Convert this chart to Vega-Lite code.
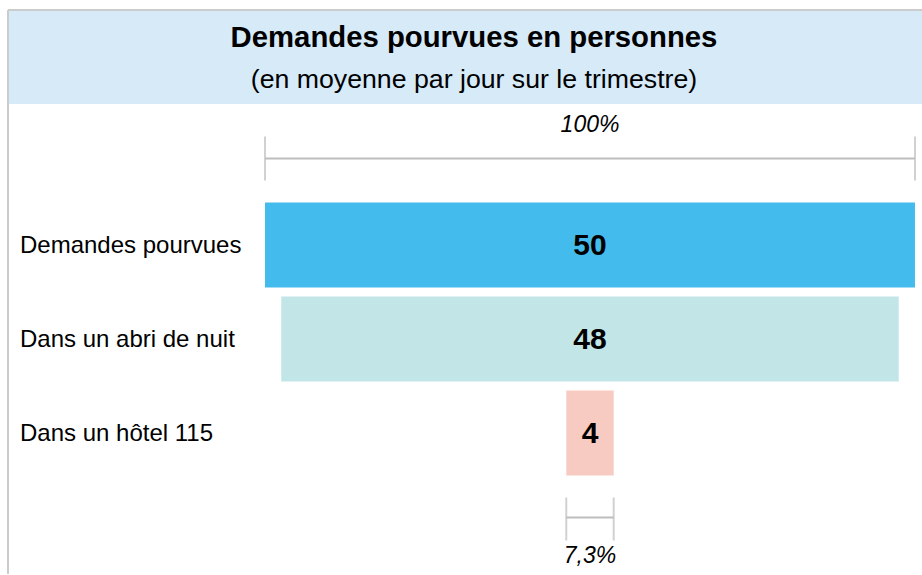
{
  "$schema": "https://vega.github.io/schema/vega-lite/v6.json",
  "width": 914,
  "height": 564,
  "autosize": {"type": "none"},
  "padding": {"left": 8, "top": 10, "right": 0, "bottom": 1},
  "background": "white",
  "config": {"view": {"stroke": null}, "font": "Liberation Sans"},
  "datasets": {
    "titres": [
      {"rang": "bandeau", "ligne": "titre", "texte": "Demandes pourvues en personnes"},
      {"rang": "bandeau", "ligne": "sous-titre", "texte": "(en moyenne par jour sur le trimestre)"}
    ],
    "barres": [
      {"rang": "Demandes pourvues", "valeur": 50},
      {"rang": "Dans un abri de nuit", "valeur": 47.5},
      {"rang": "Dans un hôtel 115", "valeur": 3.65}
    ],
    "reperes": [
      {"rang": "repère haut", "valeur": 50, "part": "100%"},
      {"rang": "repère bas", "valeur": 3.65, "part": "7,3%"}
    ]
  },
  "layer": [
    {
      "data": {"name": "barres"},
      "mark": {"type": "bar", "height": 85},
      "encoding": {
        "x": {"field": "valeur", "type": "quantitative", "stack": "center", "axis": null,
              "scale": {"domain": [-19.77, 50.54], "nice": false, "zero": false}},
        "y": {"field": "rang", "type": "nominal", "axis": null,
              "scale": {"domain": ["bandeau", "repère haut", "Demandes pourvues", "Dans un abri de nuit", "Dans un hôtel 115", "repère bas"], "paddingInner": 0, "paddingOuter": 0}},
        "color": {"field": "rang", "type": "nominal", "legend": null,
                  "scale": {"domain": ["Demandes pourvues", "Dans un abri de nuit", "Dans un hôtel 115"], "range": ["#44BBED", "#C2E6E7", "#F7CBC1"]}}
      }
    },
    {
      "data": {"name": "barres"},
      "mark": {"type": "text", "fontSize": 24, "align": "left", "baseline": "alphabetic", "dx": 12, "dy": 8, "color": "#000000"},
      "encoding": {
        "x": {"datum": -19.77, "type": "quantitative", "axis": null, "scale": {"domain": [-19.77, 50.54], "nice": false, "zero": false}},
        "y": {"field": "rang", "type": "nominal", "axis": null},
        "text": {"field": "rang"}
      }
    },
    {
      "data": {"name": "titres"},
      "transform": [{"filter": "datum.ligne === 'titre'"}],
      "mark": {"type": "rect", "color": "#D6EAF8"},
      "encoding": {
        "y": {"field": "rang", "type": "nominal", "axis": null}
      }
    },
    {
      "data": {"name": "titres"},
      "transform": [{"filter": "datum.ligne === 'titre'"}],
      "mark": {"type": "text", "fontSize": 29.3, "fontWeight": "bold", "baseline": "alphabetic", "align": "center", "dy": -10, "dx": 9, "color": "#000000"},
      "encoding": {
        "y": {"field": "rang", "type": "nominal", "axis": null},
        "text": {"field": "texte"}
      }
    },
    {
      "data": {"name": "titres"},
      "transform": [{"filter": "datum.ligne === 'sous-titre'"}],
      "mark": {"type": "text", "fontSize": 26.7, "baseline": "alphabetic", "align": "center", "dy": 31, "dx": 9, "color": "#000000"},
      "encoding": {
        "y": {"field": "rang", "type": "nominal", "axis": null},
        "text": {"field": "texte"}
      }
    },
    {
      "data": {"name": "barres"},
      "mark": {"type": "text", "fontSize": 30, "fontWeight": "bold", "baseline": "alphabetic", "align": "center", "dy": 10, "color": "#000000"},
      "encoding": {
        "x": {"field": "valeur", "type": "quantitative", "stack": "center", "bandPosition": 0.5, "axis": null, "scale": {"domain": [-19.77, 50.54], "nice": false, "zero": false}},
        "y": {"field": "rang", "type": "nominal", "axis": null},
        "text": {"field": "valeur", "type": "quantitative", "format": ".0f"}
      }
    },
    {
      "data": {"name": "reperes"},
      "transform": [
        {"stack": "valeur", "groupby": ["rang"], "offset": "center", "as": ["v0", "v1"]},
        {"filter": "datum.rang === 'repère haut'"}
      ],
      "layer": [
        {
          "mark": {"type": "rule", "color": "#BDBDBD", "strokeWidth": 2, "yOffset": 7.5},
          "encoding": {
            "x": {"field": "v0", "type": "quantitative", "axis": null, "scale": {"domain": [-19.77, 50.54], "nice": false, "zero": false}},
            "x2": {"field": "v1"},
            "y": {"field": "rang", "type": "nominal", "axis": null}
          }
        },
        {
          "transform": [{"fold": ["v0", "v1"], "as": ["cote", "bord"]}],
          "mark": {"type": "tick", "color": "#BDBDBD", "thickness": 2, "size": 44, "yOffset": 7.5},
          "encoding": {
            "x": {"field": "bord", "type": "quantitative", "axis": null, "scale": {"domain": [-19.77, 50.54], "nice": false, "zero": false}},
            "y": {"field": "rang", "type": "nominal", "axis": null}
          }
        }
      ]
    },
    {
      "data": {"name": "reperes"},
      "transform": [
        {"stack": "valeur", "groupby": ["rang"], "offset": "center", "as": ["v0", "v1"]},
        {"filter": "datum.rang === 'repère bas'"}
      ],
      "layer": [
        {
          "mark": {"type": "rule", "color": "#BDBDBD", "strokeWidth": 2, "yOffset": -9.5},
          "encoding": {
            "x": {"field": "v0", "type": "quantitative", "axis": null, "scale": {"domain": [-19.77, 50.54], "nice": false, "zero": false}},
            "x2": {"field": "v1"},
            "y": {"field": "rang", "type": "nominal", "axis": null}
          }
        },
        {
          "transform": [{"fold": ["v0", "v1"], "as": ["cote", "bord"]}],
          "mark": {"type": "tick", "color": "#BDBDBD", "thickness": 2, "size": 43, "yOffset": -8},
          "encoding": {
            "x": {"field": "bord", "type": "quantitative", "axis": null, "scale": {"domain": [-19.77, 50.54], "nice": false, "zero": false}},
            "y": {"field": "rang", "type": "nominal", "axis": null}
          }
        }
      ]
    },
    {
      "data": {"name": "reperes"},
      "mark": {"type": "text", "fontSize": 23, "fontStyle": "italic", "baseline": "alphabetic", "align": "center", "dy": -19, "color": "#000000"},
      "encoding": {
        "x": {"field": "valeur", "type": "quantitative", "stack": "center", "bandPosition": 0.5, "axis": null, "scale": {"domain": [-19.77, 50.54], "nice": false, "zero": false}},
        "y": {"field": "rang", "type": "nominal", "axis": null},
        "text": {"condition": {"test": "datum.rang === 'repère haut'", "field": "part"}, "value": ""}
      }
    },
    {
      "data": {"name": "reperes"},
      "mark": {"type": "text", "fontSize": 23, "fontStyle": "italic", "baseline": "alphabetic", "align": "center", "dy": 36, "color": "#000000"},
      "encoding": {
        "x": {"field": "valeur", "type": "quantitative", "stack": "center", "bandPosition": 0.5, "axis": null, "scale": {"domain": [-19.77, 50.54], "nice": false, "zero": false}},
        "y": {"field": "rang", "type": "nominal", "axis": null},
        "text": {"condition": {"test": "datum.rang === 'repère bas'", "field": "part"}, "value": ""}
      }
    },
    {
      "data": {"values": [{"bord": "gauche"}]},
      "mark": {"type": "rule", "color": "#CCCCCC", "strokeWidth": 2},
      "encoding": {
        "x": {"datum": -19.77, "type": "quantitative", "axis": null, "scale": {"domain": [-19.77, 50.54], "nice": false, "zero": false}}
      }
    },
    {
      "data": {"values": [{"bord": "haut"}]},
      "mark": {"type": "rule", "color": "#CCCCCC", "strokeWidth": 2},
      "encoding": {
        "y": {"datum": "bandeau", "type": "nominal", "bandPosition": 0, "axis": null}
      }
    }
  ]
}
